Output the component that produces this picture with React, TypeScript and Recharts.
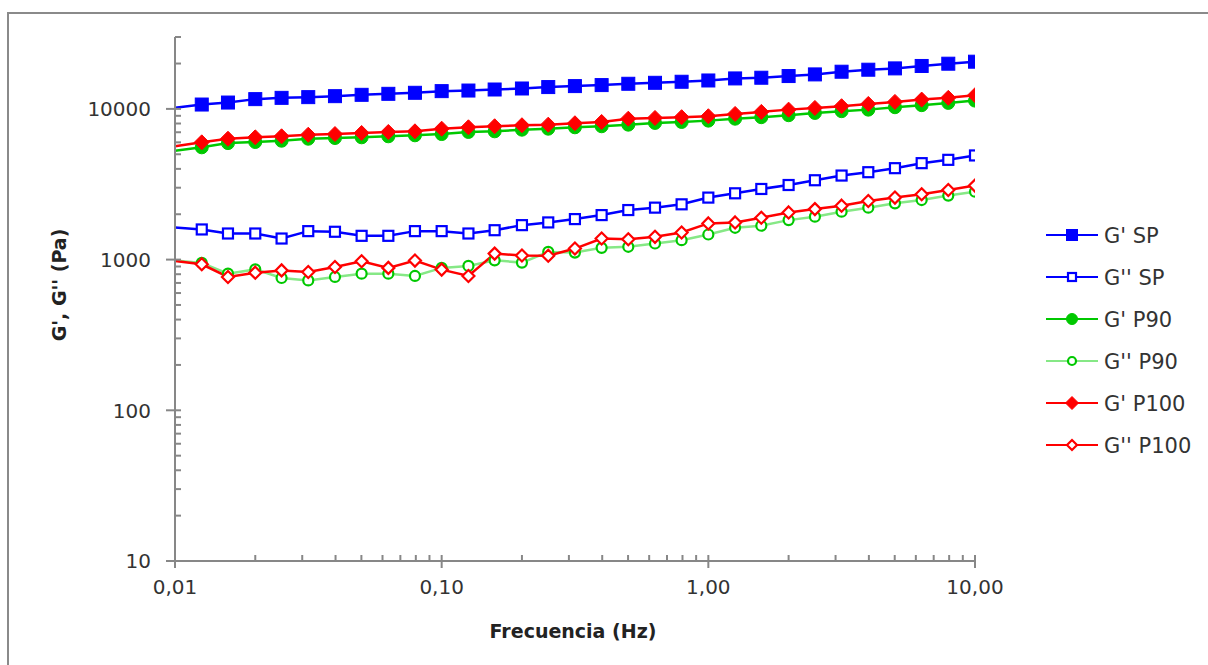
import { Legend, Line, LineChart, XAxis, YAxis } from "recharts";

// Frequency sweep, 10 points per decade from 0.01 to 10 Hz
const frequencies = [
  0.01, 0.0126, 0.0158, 0.02, 0.0251, 0.0316, 0.0398, 0.0501, 0.0631, 0.0794,
  0.1, 0.126, 0.158, 0.2, 0.251, 0.316, 0.398, 0.501, 0.631, 0.794,
  1, 1.26, 1.58, 2, 2.51, 3.16, 3.98, 5.01, 6.31, 7.94, 10,
];

const gPrimeSP = [
  10160, 10690, 11020, 11610, 11840, 11970, 12150, 12400, 12590, 12790,
  13120, 13240, 13450, 13660, 13960, 14170, 14390, 14680, 14900, 15140,
  15440, 15930, 16100, 16520, 16940, 17650, 18200, 18570, 19270, 19950, 20570,
];
const gDoubleSP = [
  1634, 1585, 1490, 1490, 1380, 1545, 1530, 1438, 1438, 1545,
  1545, 1490, 1567, 1693, 1765, 1857, 1974, 2132, 2212, 2327,
  2579, 2754, 2942, 3126, 3362, 3612, 3802, 4043, 4365, 4592, 4911,
];
const gPrimeP90 = [
  5270, 5560, 5930, 6030, 6150, 6340, 6410, 6480, 6580, 6680,
  6810, 7030, 7100, 7280, 7390, 7550, 7670, 7860, 8070, 8190,
  8360, 8610, 8810, 9080, 9400, 9660, 9890, 10260, 10590, 10960, 11350,
];
const gDoubleP90 = [
  985, 951, 807, 861, 755, 728, 767, 807, 807, 779,
  881, 908, 989, 955, 1125, 1113, 1197, 1216, 1279, 1345,
  1468, 1626, 1678, 1828, 1927, 2080, 2212, 2362, 2484, 2659, 2825,
];
const gPrimeP100 = [
  5640, 6000, 6340, 6480, 6580, 6740, 6810, 6920, 7030, 7100,
  7390, 7550, 7670, 7790, 7860, 8030, 8190, 8610, 8710, 8810,
  8940, 9260, 9550, 9890, 10150, 10420, 10790, 11130, 11530, 11840, 12330,
];
const gDoubleP100 = [
  980, 931, 767, 819, 848, 827, 894, 975, 881, 985,
  858, 779, 1096, 1065, 1060, 1184, 1380, 1365, 1416, 1514,
  1738, 1765, 1897, 2056, 2163, 2280, 2448, 2579, 2712, 2897, 3098,
];

const xTicks = [
  0.01, 0.02, 0.03, 0.04, 0.05, 0.06, 0.07, 0.08, 0.09,
  0.1, 0.2, 0.3, 0.4, 0.5, 0.6, 0.7, 0.8, 0.9,
  1, 2, 3, 4, 5, 6, 7, 8, 9, 10,
];
const yTicks = [
  10, 20, 30, 40, 50, 60, 70, 80, 90,
  100, 200, 300, 400, 500, 600, 700, 800, 900,
  1000, 2000, 3000, 4000, 5000, 6000, 7000, 8000, 9000,
  10000, 20000, 30000,
];

type Shape = "square" | "circle" | "diamond";

type SeriesStyle = {
  key: string;
  name: string;
  color: string;
  lineColor: string;
  shape: Shape;
  filled: boolean;
};

const seriesStyles: SeriesStyle[] = [
  { key: "gpSP", name: "G' SP", color: "#0000ff", lineColor: "#0000ff", shape: "square", filled: true },
  { key: "gdSP", name: "G'' SP", color: "#0000ff", lineColor: "#0000ff", shape: "square", filled: false },
  { key: "gpP90", name: "G' P90", color: "#00c800", lineColor: "#00c800", shape: "circle", filled: true },
  { key: "gdP90", name: "G'' P90", color: "#00c800", lineColor: "#86e886", shape: "circle", filled: false },
  { key: "gpP100", name: "G' P100", color: "#ff0000", lineColor: "#ff0000", shape: "diamond", filled: true },
  { key: "gdP100", name: "G'' P100", color: "#ff0000", lineColor: "#ff0000", shape: "diamond", filled: false },
];

const chartData = frequencies.map((f, i) => ({
  f,
  gpSP: gPrimeSP[i],
  gdSP: gDoubleSP[i],
  gpP90: gPrimeP90[i],
  gdP90: gDoubleP90[i],
  gpP100: gPrimeP100[i],
  gdP100: gDoubleP100[i],
}));

const AXIS_COLOR = "#878787";
const TEXT_COLOR = "#333333";
const FONT = "'DejaVu Sans', sans-serif";
const LEGEND_WIDTH = 164;

const isDecade = (v: number) => Math.abs(Math.log10(v) - Math.round(Math.log10(v))) < 1e-6;

const Marker = ({ cx, cy, shape, color, filled, size }: {
  cx: number; cy: number; shape: Shape; color: string; filled: boolean; size: number;
}) => {
  const fill = filled ? color : "#ffffff";
  const strokeWidth = filled ? 1 : 2.2;
  const h = filled ? size / 2 : size / 2 - 1;
  if (shape === "square") {
    return <rect x={cx - h} y={cy - h} width={h * 2} height={h * 2} fill={fill} stroke={color} strokeWidth={strokeWidth} />;
  }
  if (shape === "circle") {
    return <circle cx={cx} cy={cy} r={h} fill={fill} stroke={color} strokeWidth={strokeWidth} />;
  }
  const d = h + 1;
  return (
    <polygon
      points={`${cx},${cy - d} ${cx + d},${cy} ${cx},${cy + d} ${cx - d},${cy}`}
      fill={fill}
      stroke={color}
      strokeWidth={strokeWidth}
    />
  );
};

// the first sample sits on the axis and is drawn without a marker
const makeDot = (s: SeriesStyle) => (props: any) => {
  const { cx, cy, index } = props;
  if (index === 0 || cx == null || cy == null) return <g key={`${s.key}-${index}`} />;
  return (
    <g key={`${s.key}-${index}`}>
      <Marker cx={cx} cy={cy} shape={s.shape} color={s.color} filled={s.filled} size={s.filled ? 13 : 12} />
    </g>
  );
};

const XTick = (props: any) => {
  const { x, y, payload } = props;
  const v = payload.value as number;
  if (!isDecade(v)) {
    return <line x1={x} x2={x} y1={y - 6} y2={y} stroke={AXIS_COLOR} strokeWidth={2} />;
  }
  return (
    <g>
      <line x1={x} x2={x} y1={y - 6} y2={y + 7} stroke={AXIS_COLOR} strokeWidth={2} />
      <text x={x} y={y + 33} textAnchor="middle" fill={TEXT_COLOR} fontSize={20} fontFamily={FONT}>
        {v.toFixed(2).replace(".", ",")}
      </text>
    </g>
  );
};

const YTick = (props: any) => {
  const { x, y, payload } = props;
  const v = payload.value as number;
  if (!isDecade(v)) {
    return <line x1={x} x2={x + 6} y1={y} y2={y} stroke={AXIS_COLOR} strokeWidth={2} />;
  }
  return (
    <g>
      <line x1={x - 9} x2={x + 6} y1={y} y2={y} stroke={AXIS_COLOR} strokeWidth={2} />
      <text x={x - 24} y={y} dy="0.36em" textAnchor="end" fill={TEXT_COLOR} fontSize={20} fontFamily={FONT}>
        {v}
      </text>
    </g>
  );
};

const LegendBox = () => (
  <svg width={LEGEND_WIDTH} height={seriesStyles.length * 42}>
    {seriesStyles.map((s, i) => {
      const cy = 21 + i * 42;
      return (
        <g key={s.key}>
          <line x1={2} x2={54} y1={cy} y2={cy} stroke={s.lineColor} strokeWidth={2} />
          <Marker cx={28} cy={cy} shape={s.shape} color={s.color} filled={s.filled} size={s.filled ? 11 : 10} />
          <text x={60} y={cy} dy="0.36em" fill={TEXT_COLOR} fontSize={21} fontFamily={FONT}>
            {s.name}
          </text>
        </g>
      );
    })}
  </svg>
);

export default function App() {
  return (
    <div style={{ position: "absolute", left: 0, top: 0, width: 1208, height: 665, background: "#ffffff", overflow: "hidden" }}>
      <div
        style={{
          position: "absolute",
          left: 7,
          top: 12,
          width: 1210,
          height: 660,
          borderTop: "2px solid #8a8a8a",
          borderLeft: "2px solid #8a8a8a",
          pointerEvents: "none",
        }}
      />
      {/* the vertical legend adds its own width to the right offset */}
      <LineChart width={1208} height={665} data={chartData} margin={{ top: 37, right: 233 - LEGEND_WIDTH, bottom: 24, left: 0 }}>
        <XAxis
          dataKey="f"
          type="number"
          scale="log"
          domain={[0.01, 10]}
          ticks={xTicks}
          interval={0}
          tick={<XTick />}
          tickLine={false}
          tickSize={0}
          tickMargin={0}
          axisLine={{ stroke: AXIS_COLOR, strokeWidth: 2 }}
          height={80}
          allowDataOverflow
          label={{
            content: (p: any) => (
              <text
                x={p.viewBox.x + p.viewBox.width / 2 - 2}
                y={p.viewBox.y + 77}
                textAnchor="middle"
                fill="#222222"
                fontSize={19}
                fontWeight="bold"
                fontFamily={FONT}
              >
                Frecuencia (Hz)
              </text>
            ),
          }}
        />
        <YAxis
          type="number"
          scale="log"
          domain={[10, 30000]}
          ticks={yTicks}
          interval={0}
          tick={<YTick />}
          tickLine={false}
          tickSize={0}
          tickMargin={0}
          axisLine={{ stroke: AXIS_COLOR, strokeWidth: 2 }}
          width={175}
          allowDataOverflow
          label={{
            content: (p: any) => {
              const cx = p.viewBox.x + 59;
              const cy = p.viewBox.y + p.viewBox.height / 2 - 14;
              return (
                <text
                  x={cx}
                  y={cy}
                  transform={`rotate(-90 ${cx} ${cy})`}
                  textAnchor="middle"
                  dy="0.36em"
                  fill="#222222"
                  fontSize={19}
                  fontWeight="bold"
                  fontFamily={FONT}
                >
                  G', G'' (Pa)
                </text>
              );
            },
          }}
        />
        <Legend
          layout="vertical"
          align="right"
          verticalAlign="top"
          content={() => <LegendBox />}
          wrapperStyle={{ left: 1044, top: 214, width: LEGEND_WIDTH }}
        />
        {seriesStyles.map((s) => (
          <Line
            key={s.key}
            dataKey={s.key}
            name={s.name}
            type="linear"
            stroke={s.lineColor}
            strokeWidth={2.5}
            dot={makeDot(s)}
            activeDot={false}
            isAnimationActive={false}
          />
        ))}
      </LineChart>
    </div>
  );
}
